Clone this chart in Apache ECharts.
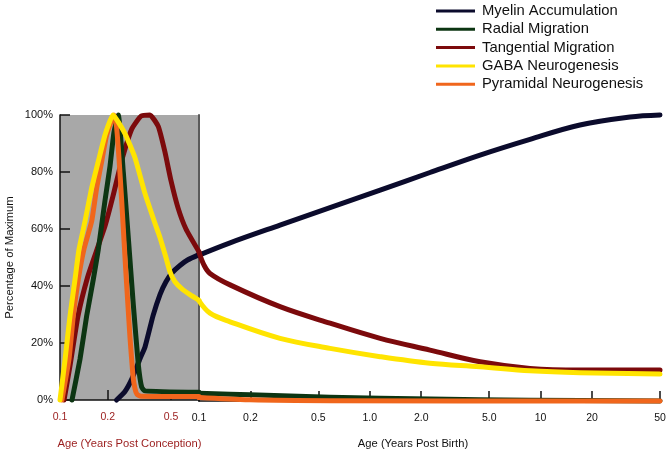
<!DOCTYPE html>
<html>
<head>
<meta charset="utf-8">
<script src="https://cdn.jsdelivr.net/npm/echarts@6/dist/echarts.min.js"></script>
<style>
html,body{margin:0;padding:0;background:#fff;}
#chart{width:669px;height:454px;}
</style>
</head>
<body>
<div id="chart"></div>
<script>
// ---- Data (ages in years; values in % of maximum) ----
const seriesNames = ['Myelin Accumulation', 'Radial Migration', 'Tangential Migration', 'GABA Neurogenesis', 'Pyramidal Neurogenesis'];

// Pre-birth part (years post conception)
const myelinPcAge = [0.227, 0.2565, 0.284, 0.3188, 0.3426, 0.385, 0.426, 0.4646, 0.507, 0.569, 0.639, 0.75];
const myelinPcVal = [0, 3, 7.5, 14.5, 18.5, 29.5, 37, 41.5, 44.6, 47.2, 49.2, 51];

const radialPcAge = [0.119, 0.1336, 0.1472, 0.162, 0.1742, 0.192, 0.2064, 0.2187, 0.2328, 0.2503, 0.2691, 0.2893, 0.311, 0.3267, 0.3426, 0.75];
const radialPcVal = [0, 14.3, 29.5, 42.3, 52.8, 70, 82, 94, 100, 80, 57, 33.6, 12.6, 4.5, 3.2, 2.7];

const tangPcAge = [0.106, 0.1156, 0.1298, 0.149, 0.1702, 0.192, 0.2155, 0.2445, 0.2826, 0.3234, 0.3685, 0.4155, 0.4579, 0.4995, 0.5528, 0.6208, 0.75];
const tangPcVal = [0, 12, 29.5, 43, 52.5, 61, 71.5, 84, 95, 99.6, 100, 96, 87, 77, 67.5, 60, 52];

const gabaPcAge = [0.1, 0.1075, 0.1156, 0.1243, 0.1317, 0.1437, 0.1583, 0.1742, 0.192, 0.2155, 0.2565, 0.2965, 0.3426, 0.3961, 0.426, 0.4646, 0.4923, 0.5293, 0.5857, 0.6578, 0.75];
const gabaPcVal = [0, 14, 29.5, 42.3, 52.8, 62.7, 74.4, 83.7, 93, 100, 93.5, 85, 72.5, 62, 57, 50, 45, 41.5, 39, 37, 35];

const pyrPcAge = [0.1029, 0.1139, 0.1213, 0.1304, 0.1416, 0.1583, 0.1702, 0.183, 0.1968, 0.2187, 0.2268, 0.2351, 0.2445, 0.2591, 0.2758, 0.288, 0.2965, 0.3052, 0.3234, 0.75];
const pyrPcVal = [0, 14.3, 29.5, 42.3, 53, 62.7, 74.4, 83.7, 93, 100, 96, 85, 70, 46, 22, 8.5, 4, 2, 1.3, 1.2];

// Post-birth part (years post birth)
const myelinPbAge = [0.1, 0.152, 0.298, 0.585, 1.15, 2.25, 4.42, 8.67, 17, 33.4, 50];
const myelinPbVal = [51, 55.3, 61.5, 67.6, 73.7, 79.9, 86, 91.5, 96.5, 99.3, 100];

const radialPbAge = [0.1, 0.199, 0.585, 2.25, 8.67, 50];
const radialPbVal = [2.7, 2.2, 1.3, 0.7, 0.3, 0];

const tangPbAge = [0.1, 0.107, 0.116, 0.152, 0.298, 0.585, 1.15, 2.25, 4.42, 8.67, 17, 50];
const tangPbVal = [52, 47.5, 44.6, 40.6, 33, 27.2, 21.9, 17.8, 13.7, 11.4, 10.8, 10.8];

const gabaPbAge = [0.1, 0.116, 0.152, 0.298, 0.585, 1.15, 2.25, 4.42, 8.67, 17, 50];
const gabaPbVal = [35, 30.7, 27.7, 21.9, 18.4, 15.5, 13.2, 12, 10.6, 9.9, 9.4];

const pyrPbAge = [0.1, 0.199, 0.585, 50];
const pyrPbVal = [1.2, 0.4, 0.1, 0];

// Tick values and labels
const pcTicks = [0.1, 0.2, 0.5];
const pcTickLabels = ['0.1', '0.2', '0.5'];
const pbTicks = [0.1, 0.2, 0.5, 1, 2, 5, 10, 20, 50];
const pbTickLabels = ['0.1', '0.2', '0.5', '1.0', '2.0', '5.0', '10', '20', '50'];

// ---- Styles ----
const colors = {
  'Myelin Accumulation': '#0b0b2c',
  'Radial Migration': '#0c3512',
  'Tangential Migration': '#7c0a0c',
  'GABA Neurogenesis': '#ffe400',
  'Pyramidal Neurogenesis': '#f0661c'
};
const FONT = 'Liberation Sans, Arial, sans-serif';
const RED_TXT = '#9a1c1c';

function zip(a, b) { return a.map((x, i) => [x, b[i]]); }
function lookup(ticks, labels, v) {
  for (let i = 0; i < ticks.length; i++) {
    if (Math.abs(ticks[i] - v) / ticks[i] < 1e-4) return labels[i];
  }
  return '';
}

const parts = [
  ['Myelin Accumulation', myelinPcAge, myelinPcVal, myelinPbAge, myelinPbVal],
  ['Tangential Migration', tangPcAge, tangPcVal, tangPbAge, tangPbVal],
  ['Radial Migration', radialPcAge, radialPcVal, radialPbAge, radialPbVal],
  ['Pyramidal Neurogenesis', pyrPcAge, pyrPcVal, pyrPbAge, pyrPbVal],
  ['GABA Neurogenesis', gabaPcAge, gabaPcVal, gabaPbAge, gabaPbVal]
];

const series = [];
parts.forEach(([name, pcA, pcV, pbA, pbV]) => {
  const common = {
    name: name, type: 'line', symbol: 'none', showSymbol: false,
    clip: false, animation: false,
    lineStyle: { color: colors[name], width: 5, cap: 'round', join: 'round' },
    itemStyle: { color: colors[name] }
  };
  series.push(Object.assign({}, common, { xAxisIndex: 0, yAxisIndex: 0, smooth: 0.15, data: zip(pcA, pcV) }));
  series.push(Object.assign({}, common, { xAxisIndex: 1, yAxisIndex: 1, smooth: 0.35, data: zip(pbA, pbV) }));
});

const chart = echarts.init(document.getElementById('chart'), null, { renderer: 'canvas' });
chart.setOption({
  backgroundColor: '#ffffff',
  animation: false,
  textStyle: { fontFamily: FONT },
  legend: {
    data: seriesNames,
    orient: 'vertical',
    left: 436, top: 3,
    padding: 0,
    itemWidth: 39, itemHeight: 16, itemGap: 2.3,
    selectedMode: false,
    icon: 'path://M0,6.5 L39,6.5 L39,9.5 L0,9.5 Z',
    textStyle: { fontSize: 14.8, lineHeight: 16, color: '#111', fontFamily: FONT, padding: [0, 0, 0, 2] }
  },
  grid: [
    { left: 60, top: 115, width: 139, height: 286, show: true, backgroundColor: '#a8a8a8', borderWidth: 0 },
    { left: 199, top: 115, width: 461, height: 286, show: false }
  ],
  xAxis: [
    {
      type: 'log', logBase: 10, gridIndex: 0, min: 0.1, max: 0.75,
      name: 'Age (Years Post Conception)', nameLocation: 'middle', nameGap: 38,
      nameTextStyle: { color: RED_TXT, fontSize: 11.2, fontFamily: FONT },
      axisLine: { show: true, lineStyle: { color: '#111', width: 1.5 } },
      axisTick: { show: true, inside: true, length: 10, customValues: pcTicks, lineStyle: { color: '#111', width: 1.5 } },
      axisLabel: { show: true, customValues: pcTicks, margin: 12, color: RED_TXT, fontSize: 10.5, fontFamily: FONT,
        formatter: v => lookup(pcTicks, pcTickLabels, v) },
      splitLine: { show: false }, minorTick: { show: false }
    },
    {
      type: 'log', logBase: 10, gridIndex: 1, min: 0.1, max: 50,
      name: 'Age (Years Post Birth)', nameLocation: 'middle', nameGap: 37,
      nameTextStyle: { color: '#111', fontSize: 11.2, fontFamily: FONT, padding: [0, 33, 0, 0] },
      axisLine: { show: true, lineStyle: { color: '#111', width: 1.5 } },
      axisTick: { show: true, inside: true, length: 10, customValues: pbTicks, lineStyle: { color: '#111', width: 1.5 } },
      axisLabel: { show: true, customValues: pbTicks, margin: 12, color: '#111', fontSize: 10.5, fontFamily: FONT,
        formatter: v => lookup(pbTicks, pbTickLabels, v) },
      splitLine: { show: false }, minorTick: { show: false }
    }
  ],
  yAxis: [
    {
      type: 'value', gridIndex: 0, min: 0, max: 100, interval: 20,
      name: 'Percentage of Maximum', nameLocation: 'middle', nameGap: 45, nameRotate: 90,
      nameTextStyle: { color: '#111', fontSize: 11.3, fontFamily: FONT },
      axisLine: { show: true, lineStyle: { color: '#111', width: 1.5 } },
      axisTick: { show: true, inside: true, length: 10, lineStyle: { color: '#111', width: 1.5 } },
      axisLabel: { show: true, margin: 7, color: '#111', fontSize: 11, fontFamily: FONT, formatter: '{value}%' },
      splitLine: { show: false }
    },
    {
      type: 'value', gridIndex: 1, min: 0, max: 100, interval: 20,
      axisLine: { show: true, lineStyle: { color: '#5a5a5a', width: 2 } },
      axisTick: { show: false }, axisLabel: { show: false }, splitLine: { show: false }
    }
  ],
  series: series
});
</script>
</body>
</html>
